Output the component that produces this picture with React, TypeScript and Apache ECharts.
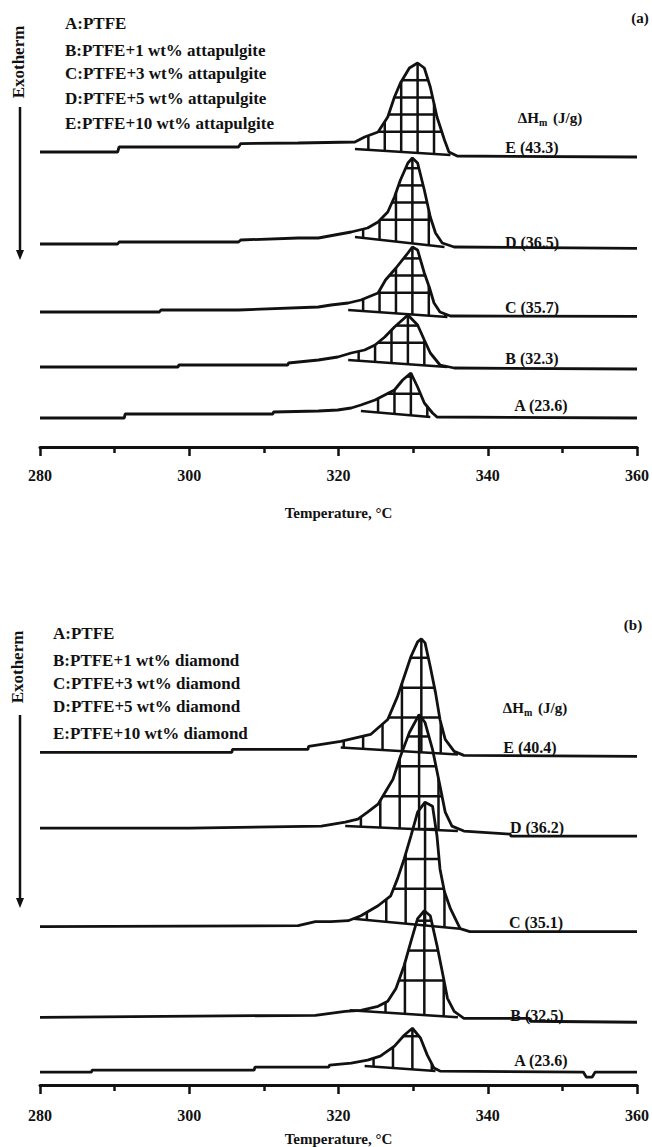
import React, { useEffect, useRef } from "react";
import * as echarts from "echarts";

const INK = "#111";
const FONT = "'Liberation Serif', 'DejaVu Serif', serif";

// x-axis (temperature, °C)
const tempMin = 280;
const tempMax = 360;
const tempStep = 20;

// labels
const legendA = [
  "A:PTFE",
  "B:PTFE+1 wt% attapulgite",
  "C:PTFE+3 wt% attapulgite",
  "D:PTFE+5 wt% attapulgite",
  "E:PTFE+10 wt% attapulgite",
];
const legendB = [
  "A:PTFE",
  "B:PTFE+1 wt% diamond",
  "C:PTFE+3 wt% diamond",
  "D:PTFE+5 wt% diamond",
  "E:PTFE+10 wt% diamond",
];
const curveNames = ["A", "B", "C", "D", "E"];
const enthalpyA = [23.6, 32.3, 35.7, 36.5, 43.3];
const enthalpyB = [23.6, 32.5, 35.1, 36.2, 40.4];

// Panel (a): heat flow traces (offset, arbitrary units) vs temperature
const aA = [[280, 6], [291.3, 6], [291.4, 7], [311.2, 7], [311.3, 7.5], [317.3, 7.75], [319.9, 8], [321.7, 8.5], [323.0, 9.25], [324.9, 10.5], [326.2, 11.75], [327.5, 13], [328.6, 15.5], [329.7, 17.25], [330.6, 13.75], [331.5, 9.75], [332.6, 7.25], [333.2, 6.25], [360, 6]];
const aB = [[280, 18.75], [298.5, 18.75], [298.6, 19.25], [313.2, 19.25], [313.3, 19.75], [317.3, 20.5], [319.9, 21.25], [321.7, 22.25], [323.5, 23], [324.9, 24.25], [326.2, 26.25], [327.5, 28.75], [329.3, 31.75], [330.6, 29.25], [331.5, 25.5], [332.3, 22.25], [333.6, 19.25], [335.5, 18.5], [360, 18.25]];
const aC = [[280, 32.5], [296, 32.5], [296.2, 33], [306.6, 33], [317.3, 33.75], [319.0, 34.25], [321.3, 34.75], [323.0, 35.5], [325.3, 37.25], [326.3, 40.5], [327.7, 43.5], [329.3, 47.25], [329.9, 48.75], [330.6, 48], [331.5, 42.25], [332.2, 38.5], [332.8, 34.75], [333.6, 32.5], [335.0, 31.5], [360, 31.4]];
const aD = [[280, 49.5], [290.4, 49.5], [290.6, 50], [306.6, 50], [306.9, 50.5], [314.6, 51], [317.3, 51], [321.7, 52.5], [323.9, 53.5], [325.3, 55], [326.6, 57.5], [327.5, 61.25], [328.3, 65.5], [329.3, 69.75], [329.9, 71], [330.6, 69.75], [331.5, 63], [332.3, 56.25], [333.0, 52.25], [333.9, 49.75], [335.5, 48.75], [360, 48.4]];
const aE = [[280, 72.5], [290.4, 72.5], [290.6, 73.75], [306.6, 73.75], [306.9, 74.6], [314.6, 74.75], [322.2, 75], [323.5, 76.25], [325.3, 77.5], [326.6, 81.25], [327.5, 86.25], [328.3, 89.75], [329.5, 93.5], [330.6, 94.75], [331.5, 93.5], [332.3, 88.75], [333.2, 81.25], [334.2, 75.5], [334.8, 72.5], [335.9, 71.5], [360, 71.25]];

// Panel (b)
const bA = [[280, 3.25], [286.9, 3.25], [287, 3.75], [308.7, 3.75], [308.8, 4.5], [318.7, 4.5], [318.8, 5], [321.7, 5.5], [323.9, 6.25], [325.6, 7.25], [327.5, 9.75], [328.8, 12.5], [329.9, 14.25], [331.0, 11.75], [331.9, 7.5], [332.8, 4.25], [333.6, 3.5], [352.8, 3.25], [353.2, 2], [354, 2], [354.4, 3.25], [360, 3.25]];
const bB = [[280, 17], [316.9, 17.5], [320.9, 18.5], [323.0, 18.75], [325.3, 19.75], [326.6, 21], [327.7, 24.25], [328.8, 30], [329.7, 36], [330.6, 41.75], [331.5, 43.75], [332.3, 42.5], [333.2, 35], [333.9, 28.5], [334.6, 21.75], [335.5, 18.5], [336.8, 16.75], [345.6, 16.75], [345.7, 16], [360, 15.75]];
const bC = [[280, 39.75], [314.6, 40], [316.9, 41], [319.0, 41], [321.3, 41.25], [323.0, 42.5], [325.3, 45], [327.0, 47.5], [327.9, 51.75], [328.8, 56.75], [329.7, 62.5], [330.6, 68.5], [331.6, 71], [332.6, 70], [333.2, 62.5], [333.6, 54.25], [334.2, 48.5], [335.0, 44.25], [336.3, 39.25], [337.6, 38.5], [360, 38.5]];
const bD = [[280, 64.5], [300, 64.5], [317.7, 65], [320.9, 66], [322.6, 66.75], [323.9, 68.5], [325.3, 70.5], [327.3, 76.75], [328.3, 82.5], [329.5, 88.5], [330.8, 93], [331.6, 91], [332.6, 84.25], [333.5, 76], [334.3, 68.5], [335.2, 65], [336.8, 63.75], [343, 63], [343.1, 62.5], [360, 62.5]];
const bE = [[280, 83.5], [305.7, 83.5], [305.8, 84.25], [315.9, 84.25], [316, 85], [320.3, 86.25], [324.3, 88], [326.6, 91.75], [327.9, 97.5], [328.8, 102.5], [329.7, 107.5], [330.6, 111.25], [331.1, 112], [331.6, 111], [332.3, 105], [333.0, 98.5], [333.6, 91.75], [334.3, 86.75], [335.5, 83.75], [336.8, 82.75], [360, 82.5]];

// integration baselines under each melting peak: [T start, value, T end, value]
const hatchA = [[323.0, 7.75, 332.3, 6.25], [321.3, 20.5, 334.6, 18.75], [321.3, 33, 334.6, 31.25], [322.2, 51.25, 334.2, 48.75], [322.2, 73.25, 335.0, 71.75]];
const hatchB = [[323.5, 4.75, 333.0, 3.5], [321.5, 18.75, 336.0, 17], [322.0, 41.75, 336.3, 39.25], [320.9, 65, 336.0, 63.75], [320.3, 84.75, 336.0, 83]];

const curvesA = [aA, aB, aC, aD, aE];
const curvesB = [bA, bB, bC, bD, bE];

function interp(curve: number[][], T: number) {
  for (let k = 0; k < curve.length - 1; k++) {
    const [t0, v0] = curve[k];
    const [t1, v1] = curve[k + 1];
    if (T >= t0 && T <= t1) {
      if (t1 === t0) return Math.max(v0, v1);
      return v0 + ((v1 - v0) * (T - t0)) / (t1 - t0);
    }
  }
  return curve[curve.length - 1][1];
}

function makeHatch(curves: number[][][], hatches: number[][], dT: number, dv: number) {
  return (params: any, api: any) => {
    const i = api.value(2);
    const curve = curves[i];
    const [ts, vs, te, ve] = hatches[i];
    const base = (T: number) => vs + ((ve - vs) * (T - ts)) / (te - ts);
    let pk = 0;
    curve.forEach((p, k) => {
      if (p[1] > curve[pk][1]) pk = k;
    });
    const tp = curve[pk][0];
    const vp = curve[pk][1];
    const children: any[] = [];
    const seg = (a: number[], b: number[]) => {
      const p1 = api.coord(a);
      const p2 = api.coord(b);
      children.push({
        type: "line",
        shape: { x1: p1[0], y1: p1[1], x2: p2[0], y2: p2[1] },
        style: { stroke: INK, lineWidth: 2.5 },
      });
    };
    seg([ts, vs], [te, ve]);
    for (let k = -12; k <= 12; k++) {
      const T = tp + k * dT;
      if (T <= ts + 0.3 || T >= te - 0.3) continue;
      const top = interp(curve, T);
      const b = base(T);
      if (top > b + 0.4) seg([T, b], [T, top]);
    }
    const vmin = Math.max(vs, ve);
    for (let v = vmin + dv; v < vp - 0.5; v += dv) {
      let k = pk;
      while (k > 0 && curve[k - 1][1] >= v) k--;
      let tL = ts;
      if (k > 0) {
        const [t0, v0] = curve[k - 1];
        const [t1, v1] = curve[k];
        tL = v1 === v0 ? t0 : t0 + ((v - v0) * (t1 - t0)) / (v1 - v0);
      }
      let j = pk;
      while (j < curve.length - 1 && curve[j + 1][1] >= v) j++;
      let tR = te;
      if (j < curve.length - 1) {
        const [t0, v0] = curve[j];
        const [t1, v1] = curve[j + 1];
        tR = v1 === v0 ? t1 : t0 + ((v - v0) * (t1 - t0)) / (v1 - v0);
      }
      tL = Math.max(tL, ts);
      tR = Math.min(tR, te);
      if (tR > tL) seg([tL, v], [tR, v]);
    }
    return { type: "group", children };
  };
}

const boldFont = (size: number) => `bold ${size}px ${FONT}`;

function textEl(text: string, x: number, y: number, size: number, align = "left", extra: any = {}) {
  return {
    type: "text",
    x,
    y,
    silent: true,
    ...extra,
    style: {
      text,
      fill: INK,
      font: boldFont(size),
      textAlign: align,
      textVerticalAlign: "middle",
      ...(extra.style || {}),
    },
  };
}

export default function App() {
  const ref = useRef<HTMLDivElement>(null);
  useEffect(() => {
    if (!ref.current) return;
    const chart = echarts.init(ref.current, undefined, { renderer: "svg" });

    const lineSeries = (curves: number[][][], gi: number) =>
      curves.map((c, i) => ({
        type: "line",
        name: `${gi === 0 ? "a" : "b"}-${curveNames[i]}`,
        xAxisIndex: gi,
        yAxisIndex: gi,
        data: c,
        symbol: "none",
        showSymbol: false,
        silent: true,
        lineStyle: { color: INK, width: 2.8 },
        z: 3,
      }));

    const hatchSeries = (curves: number[][][], hatches: number[][], gi: number, dT: number, dv: number) => ({
      type: "custom",
      xAxisIndex: gi,
      yAxisIndex: gi,
      silent: true,
      clip: false,
      encode: { x: 0, y: 1 },
      data: curves.map((_, i) => [320, 10, i]),
      renderItem: makeHatch(curves, hatches, dT, dv),
      z: 2,
    });

    const xAxis = (gi: number) => ({
      gridIndex: gi,
      type: "value",
      min: tempMin,
      max: tempMax,
      interval: tempStep,
      axisLine: { show: true, onZero: false, lineStyle: { color: INK, width: 3 } },
      axisTick: { show: true, length: 9, lineStyle: { color: INK, width: 2.5 } },
      minorTick: { show: true, splitNumber: 2, length: 6, lineStyle: { color: INK, width: 2.5 } },
      axisLabel: { color: INK, fontFamily: FONT, fontWeight: "bold", fontSize: 16, margin: gi === 0 ? 20 : 22 },
      splitLine: { show: false },
      minorSplitLine: { show: false },
      name: "Temperature, °C",
      nameLocation: "middle",
      nameGap: gi === 0 ? 58 : 46,
      nameTextStyle: { color: INK, fontFamily: FONT, fontWeight: "bold", fontSize: 15 },
    });

    const legendYA = [23, 50, 73, 98, 123];
    const legendYB = [633, 660, 683, 706, 733];
    const labelPosA = [[541, 405], [532, 358], [532, 307], [532, 242], [532, 147]];
    const labelPosB = [[541, 1060], [537, 1015], [536, 922], [537, 827], [530, 747]];

    const sub = { m: { font: boldFont(10), fill: INK, padding: [9, 2, 0, 0] } };

    const graphic: any[] = [
      ...legendA.map((t, i) => textEl(t, 65, legendYA[i], 17)),
      ...legendB.map((t, i) => textEl(t, 53, legendYB[i], 17)),
      ...curveNames.map((n, i) => textEl(`${n} (${enthalpyA[i].toFixed(1)})`, labelPosA[i][0], labelPosA[i][1], 16, "center")),
      ...curveNames.map((n, i) => textEl(`${n} (${enthalpyB[i].toFixed(1)})`, labelPosB[i][0], labelPosB[i][1], 16, "center")),
      {
        type: "text", x: 550, y: 118, silent: true,
        style: { text: "ΔH{m|m} (J/g)", fill: INK, font: boldFont(15), textAlign: "center", textVerticalAlign: "middle", rich: sub },
      },
      {
        type: "text", x: 535, y: 708, silent: true,
        style: { text: "ΔH{m|m} (J/g)", fill: INK, font: boldFont(15), textAlign: "center", textVerticalAlign: "middle", rich: sub },
      },
      textEl("(a)", 640, 18, 15, "center"),
      textEl("(b)", 633, 625, 15, "center"),
      textEl("Exotherm", 18, 62, 17, "center", { rotation: Math.PI / 2 }),
      textEl("Exotherm", 17, 667, 17, "center", { rotation: Math.PI / 2 }),
      { type: "line", silent: true, shape: { x1: 20, y1: 107, x2: 20, y2: 252 }, style: { stroke: INK, lineWidth: 2.5 } },
      { type: "polygon", silent: true, shape: { points: [[16, 250], [24, 250], [20, 260]] }, style: { fill: INK } },
      { type: "line", silent: true, shape: { x1: 20, y1: 715, x2: 20, y2: 900 }, style: { stroke: INK, lineWidth: 2.5 } },
      { type: "polygon", silent: true, shape: { points: [[16, 898], [24, 898], [20, 908]] }, style: { fill: INK } },
    ];

    chart.setOption({
      animation: false,
      backgroundColor: "#fff",
      grid: [
        { left: 40, right: 11, top: 42, height: 405 },
        { left: 40, right: 11, top: 607, height: 480 },
      ],
      xAxis: [xAxis(0), xAxis(1)],
      yAxis: [
        { gridIndex: 0, type: "value", min: -1.25, max: 100, show: false },
        { gridIndex: 1, type: "value", min: 0, max: 120, show: false },
      ],
      series: [
        ...lineSeries(curvesA, 0),
        ...lineSeries(curvesB, 1),
        hatchSeries(curvesA, hatchA, 0, 2.2, 4.3),
        hatchSeries(curvesB, hatchB, 1, 2.6, 7.5),
      ],
      graphic,
    });
    return () => chart.dispose();
  }, []);
  return <div ref={ref} style={{ position: "absolute", left: 0, top: 0, width: 652, height: 1147 }} />;
}
